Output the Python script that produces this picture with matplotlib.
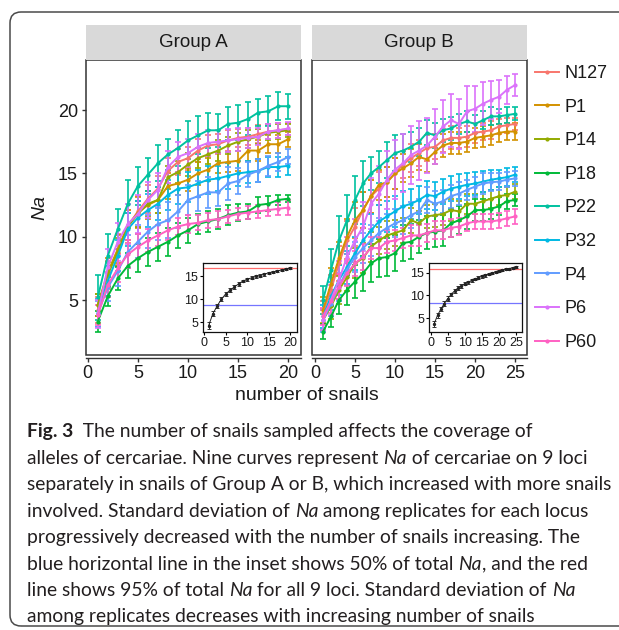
import numpy as np
import matplotlib
matplotlib.use("Agg")
import matplotlib.pyplot as plt
from matplotlib.patches import FancyBboxPatch, Rectangle
from matplotlib.lines import Line2D
from matplotlib.transforms import IdentityTransform

plt.rcParams['font.family'] = ['Liberation Sans', 'DejaVu Sans']

# ---------------- data ----------------
loci = ["N127", "P1", "P14", "P18", "P22", "P32", "P4", "P6", "P60"]
colors = ["#F8766D", "#D39200", "#93AA00", "#00BA38", "#00C19F",
          "#00B9E3", "#619CFF", "#DB72FB", "#FF61C3"]

snails_A = list(range(1, 21))
snails_B = list(range(1, 26))

# Group A means
a_N127 = [4.2, 7.0, 9.0, 10.8, 12.0, 13.0, 13.8, 15.2, 15.9, 16.2, 16.8, 17.2, 17.3, 17.6, 17.8, 17.9, 18.1, 18.3, 18.4, 18.5]
a_P1   = [4.6, 7.2, 9.0, 10.9, 11.9, 12.5, 12.9, 14.0, 14.2, 14.5, 15.0, 15.3, 15.8, 15.9, 16.0, 16.8, 16.8, 17.3, 17.3, 17.7]
a_P14  = [4.6, 7.0, 8.8, 10.8, 11.8, 12.6, 12.9, 14.7, 15.1, 15.7, 16.2, 16.5, 16.8, 17.2, 17.5, 17.7, 17.9, 18.2, 18.3, 18.4]
a_P18  = [3.3, 5.3, 6.7, 7.7, 8.3, 8.8, 9.2, 9.6, 10.1, 10.5, 11.0, 11.2, 11.4, 11.7, 11.9, 12.0, 12.5, 12.6, 12.9, 13.0]
a_P22  = [5.2, 8.5, 10.6, 12.6, 14.0, 14.9, 15.8, 16.5, 17.0, 17.6, 18.0, 18.4, 18.4, 18.9, 19.0, 19.3, 19.8, 19.9, 20.3, 20.3]
a_P32  = [4.0, 6.5, 8.5, 10.6, 11.5, 12.1, 12.6, 13.3, 13.8, 13.9, 14.2, 14.5, 14.6, 14.8, 15.0, 15.1, 15.2, 15.5, 15.5, 15.6]
a_P4   = [3.9, 6.0, 7.3, 8.8, 9.6, 10.4, 11.0, 11.3, 12.0, 12.9, 13.2, 13.5, 13.5, 14.2, 14.4, 14.9, 15.2, 15.6, 15.9, 16.3]
a_P6   = [3.9, 7.6, 9.6, 11.0, 11.8, 12.9, 13.7, 15.5, 16.3, 16.6, 17.1, 17.4, 17.5, 17.6, 17.7, 17.8, 17.9, 18.3, 18.4, 18.55]
a_P60  = [3.8, 6.2, 7.5, 8.6, 9.2, 9.7, 10.1, 10.5, 10.8, 11.0, 11.1, 11.3, 11.4, 11.6, 11.8, 11.9, 12.0, 12.1, 12.2, 12.3]

# Group A standard deviations
a_N127_sd = [1.0, 1.1, 1.2, 1.3, 1.2, 1.1, 1.0, 1.0, 1.0, 0.9, 0.9, 0.8, 0.8, 0.8, 0.7, 0.7, 0.7, 0.6, 0.6, 0.5]
a_P1_sd   = [0.9, 1.1, 1.1, 1.2, 1.2, 1.1, 1.0, 1.0, 0.9, 0.9, 0.9, 0.9, 0.8, 0.8, 0.8, 0.8, 0.8, 0.7, 0.7, 0.6]
a_P14_sd  = [0.9, 1.0, 1.1, 1.1, 1.0, 1.0, 1.0, 0.9, 0.9, 0.9, 0.8, 0.8, 0.8, 0.7, 0.7, 0.7, 0.6, 0.6, 0.6, 0.5]
a_P18_sd  = [0.8, 0.8, 0.9, 1.0, 1.1, 1.1, 1.1, 1.1, 1.0, 1.0, 0.8, 0.8, 0.8, 0.8, 0.7, 0.6, 0.6, 0.6, 0.4, 0.3]
a_P22_sd  = [1.8, 1.7, 1.6, 1.9, 1.5, 1.3, 1.4, 1.2, 1.4, 1.5, 1.5, 1.4, 1.3, 1.3, 1.4, 1.3, 1.1, 1.2, 1.1, 1.0]
a_P32_sd  = [1.1, 1.2, 1.2, 1.3, 1.3, 1.3, 1.3, 1.2, 1.2, 1.2, 1.1, 1.1, 1.0, 1.0, 1.0, 0.9, 0.9, 0.8, 0.8, 0.7]
a_P4_sd   = [1.0, 1.1, 1.2, 1.3, 1.3, 1.3, 1.3, 1.4, 1.3, 1.2, 1.2, 1.2, 1.1, 1.3, 1.0, 1.0, 0.9, 0.8, 0.7, 0.6]
a_P6_sd   = [1.1, 1.4, 1.5, 1.6, 1.5, 1.4, 1.3, 1.3, 1.2, 1.1, 1.0, 1.0, 0.9, 0.9, 0.9, 0.8, 0.7, 0.6, 0.6, 0.5]
a_P60_sd  = [0.8, 1.0, 1.1, 1.1, 1.0, 0.9, 0.8, 0.8, 0.7, 0.7, 0.6, 0.6, 0.6, 0.5, 0.5, 0.5, 0.5, 0.5, 0.5, 0.6]

# Group B means
b_N127 = [4.0, 5.8, 7.9, 9.7, 10.8, 12.1, 13.2, 13.8, 14.3, 15.0, 15.7, 16.2, 16.6, 17.0, 17.1, 17.6, 17.8, 17.8, 17.9, 18.2, 18.3, 18.4, 18.7, 18.8, 18.9]
b_P1   = [4.2, 6.3, 8.3, 10.0, 11.3, 12.1, 13.2, 14.1, 14.3, 15.0, 15.4, 15.8, 16.3, 16.1, 16.7, 17.2, 17.4, 17.4, 17.5, 17.8, 17.9, 18.0, 18.2, 18.3, 18.3]
b_P14  = [3.4, 4.5, 5.8, 6.8, 7.9, 8.3, 9.2, 9.7, 10.1, 10.3, 10.5, 11.3, 11.05, 11.6, 11.7, 11.8, 12.1, 12.0, 12.6, 12.6, 12.8, 13.0, 13.2, 13.3, 13.55]
b_P18  = [2.5, 3.7, 5.0, 5.8, 6.45, 7.1, 7.9, 8.3, 8.4, 8.7, 9.5, 9.6, 10.0, 10.3, 10.4, 10.5, 11.05, 11.3, 11.6, 12.1, 12.1, 12.2, 12.4, 12.8, 12.9]
b_P22  = [5.0, 7.4, 9.7, 11.3, 12.9, 14.2, 15.0, 15.5, 16.05, 16.6, 16.8, 17.1, 17.5, 18.2, 18.0, 18.4, 18.55, 18.9, 19.1, 18.9, 19.2, 19.5, 19.5, 19.6, 19.7]
b_P32  = [3.7, 5.3, 6.6, 7.6, 8.7, 9.7, 10.5, 11.2, 11.6, 12.0, 12.4, 12.6, 12.9, 13.3, 13.2, 13.55, 13.8, 13.95, 14.1, 14.2, 14.35, 14.5, 14.6, 14.7, 14.9]
b_P4   = [3.4, 4.7, 6.05, 7.4, 8.4, 9.1, 9.7, 10.3, 10.7, 11.05, 11.3, 11.7, 12.0, 12.9, 12.6, 12.8, 13.2, 13.4, 13.7, 13.95, 14.2, 14.3, 14.35, 14.5, 14.6]
b_P6   = [3.4, 5.0, 6.6, 8.4, 9.7, 10.8, 12.6, 13.4, 14.5, 15.3, 15.8, 16.45, 16.8, 17.2, 17.9, 18.7, 19.2, 18.9, 19.9, 20.1, 20.5, 20.8, 21.05, 21.6, 21.97]
b_P60  = [3.7, 4.9, 6.05, 7.1, 7.9, 8.4, 9.1, 9.1, 9.6, 9.7, 9.9, 10.1, 10.1, 10.3, 10.5, 10.5, 10.7, 10.8, 11.05, 11.2, 11.2, 11.2, 11.3, 11.45, 11.6]

# Group B standard deviations
b_N127_sd = [0.9, 1.2, 1.4, 1.5, 1.5, 1.4, 1.3, 1.3, 1.2, 1.2, 1.1, 1.1, 1.0, 1.0, 1.0, 0.9, 0.9, 0.8, 0.8, 0.8, 0.7, 0.7, 0.6, 0.6, 0.5]
b_P1_sd   = [1.0, 1.2, 1.3, 1.4, 1.4, 1.4, 1.3, 1.2, 1.2, 1.2, 1.1, 1.1, 1.0, 1.0, 1.0, 0.9, 0.9, 0.9, 0.8, 0.8, 0.8, 0.8, 0.7, 0.7, 0.7]
b_P14_sd  = [0.8, 1.0, 1.1, 1.1, 1.2, 1.2, 1.2, 1.1, 1.1, 1.0, 1.0, 1.0, 1.0, 0.9, 0.9, 0.9, 0.9, 0.8, 0.8, 0.8, 0.7, 0.7, 0.7, 0.6, 0.6]
b_P18_sd  = [0.6, 0.8, 1.1, 1.2, 1.3, 1.4, 1.5, 1.5, 1.5, 1.4, 1.4, 1.4, 1.3, 1.3, 1.2, 1.2, 1.1, 1.1, 1.0, 0.9, 0.9, 0.8, 0.7, 0.6, 0.5]
b_P22_sd  = [1.1, 1.6, 1.9, 2.0, 1.9, 1.8, 1.3, 1.3, 1.4, 1.4, 1.3, 1.2, 1.1, 1.0, 1.0, 0.9, 0.9, 0.8, 0.8, 0.7, 0.7, 0.7, 0.6, 0.6, 0.5]
b_P32_sd  = [0.9, 1.1, 1.2, 1.3, 1.3, 1.3, 1.3, 1.3, 1.2, 1.2, 1.2, 1.2, 1.1, 1.1, 1.1, 1.0, 1.0, 1.0, 0.9, 0.9, 0.8, 0.8, 0.7, 0.7, 0.6]
b_P4_sd   = [0.9, 1.0, 1.1, 1.2, 1.2, 1.2, 1.2, 1.2, 1.1, 1.1, 1.1, 1.0, 1.0, 1.0, 1.0, 0.9, 0.9, 0.9, 0.8, 0.8, 0.8, 0.7, 0.7, 0.6, 0.6]
b_P6_sd   = [0.8, 1.2, 1.5, 1.6, 1.7, 1.9, 2.0, 2.2, 2.3, 2.3, 2.3, 2.3, 2.3, 2.2, 2.2, 2.1, 2.1, 2.0, 2.0, 1.8, 1.7, 1.5, 1.3, 1.1, 0.9]
b_P60_sd  = [0.7, 0.9, 1.0, 1.0, 1.0, 1.0, 0.9, 0.9, 0.9, 0.8, 0.8, 0.8, 0.8, 0.7, 0.7, 0.7, 0.7, 0.7, 0.6, 0.6, 0.6, 0.6, 0.6, 0.6, 0.6]

# Insets: mean Na over all 9 loci
inset_A_mean = [4.2, 6.8, 8.5, 10.0, 11.1, 11.9, 12.6, 13.3, 13.9, 14.3, 14.6, 14.9, 15.1, 15.4, 15.7, 15.9, 16.1, 16.3, 16.5, 16.7]
inset_A_sd   = [0.8, 0.6, 0.5, 0.5, 0.4, 0.4, 0.4, 0.4, 0.3, 0.3, 0.3, 0.3, 0.3, 0.3, 0.2, 0.2, 0.2, 0.2, 0.2, 0.2]
inset_B_mean = [3.7, 5.6, 7.0, 8.2, 9.3, 10.2, 11.0, 11.6, 12.1, 12.6, 12.9, 13.3, 13.6, 13.9, 14.2, 14.4, 14.7, 14.9, 15.2, 15.4, 15.6, 15.8, 15.9, 16.1, 16.3]
inset_B_sd   = [0.7, 0.6, 0.5, 0.5, 0.5, 0.4, 0.4, 0.4, 0.4, 0.3, 0.3, 0.3, 0.3, 0.3, 0.3, 0.3, 0.2, 0.2, 0.2, 0.2, 0.2, 0.2, 0.2, 0.2, 0.2]
inset_A_95 = 16.7
inset_A_50 = 8.8
inset_B_95 = 15.75
inset_B_50 = 8.3

groups = ["Group A", "Group B"]

means_A = [a_N127, a_P1, a_P14, a_P18, a_P22, a_P32, a_P4, a_P6, a_P60]
sds_A = [a_N127_sd, a_P1_sd, a_P14_sd, a_P18_sd, a_P22_sd, a_P32_sd, a_P4_sd, a_P6_sd, a_P60_sd]
means_B = [b_N127, b_P1, b_P14, b_P18, b_P22, b_P32, b_P4, b_P6, b_P60]
sds_B = [b_N127_sd, b_P1_sd, b_P14_sd, b_P18_sd, b_P22_sd, b_P32_sd, b_P4_sd, b_P6_sd, b_P60_sd]

caption_lines = [
    [("Fig. 3", "bold"), ("  The number of snails sampled affects the coverage of", "normal")],
    [("alleles of cercariae. Nine curves represent ", "normal"), ("Na", "italic"), (" of cercariae on 9 loci", "normal")],
    [("separately in snails of Group A or B, which increased with more snails", "normal")],
    [("involved. Standard deviation of ", "normal"), ("Na", "italic"), (" among replicates for each locus", "normal")],
    [("progressively decreased with the number of snails increasing. The", "normal")],
    [("blue horizontal line in the inset shows 50% of total ", "normal"), ("Na", "italic"), (", and the red", "normal")],
    [("line shows 95% of total ", "normal"), ("Na", "italic"), (" for all 9 loci. Standard deviation of ", "normal"), ("Na", "italic")],
    [("among replicates decreases with increasing number of snails", "normal")],
]

# ---------------- figure ----------------
W, H, DPI = 619, 630, 100
fig = plt.figure(figsize=(W / DPI, H / DPI), dpi=DPI)
TXT = "#1a1a1a"
TICK_FS = 13
BORDER = "#333333"


def px_rect(left, top, right, bottom):
    return [left / W, 1 - bottom / H, (right - left) / W, (bottom - top) / H]


# outer rounded frame
frame = FancyBboxPatch((10, 4), 700, 614, boxstyle="round,pad=0,rounding_size=11",
                       transform=IdentityTransform(), fill=False, ec="#4a4a4a", lw=1.1)
fig.add_artist(frame)

panel_px = [(86, 60, 301, 355), (311.7, 60, 526.7, 355)]
xlims = [(-0.17, 21.27), (-0.41, 26.46)]
xticks = [[0, 5, 10, 15, 20], [0, 5, 10, 15, 20, 25]]
xs_all = [snails_A, snails_B]
means_all = [means_A, means_B]
sds_all = [sds_A, sds_B]

inset_px = [(203, 263, 297, 332), (429, 263, 522, 332)]
inset_xlims = [(-0.3, 21.6), (-0.5, 26.75)]
inset_ylims = [(2.83, 17.83), (1.91, 17.14)]
inset_xticks = [[0, 5, 10, 15, 20], [0, 5, 10, 15, 20, 25]]
inset_means = [inset_A_mean, inset_B_mean]
inset_sds = [inset_A_sd, inset_B_sd]
inset_95 = [inset_A_95, inset_B_95]
inset_50 = [inset_A_50, inset_B_50]

for g in range(2):
    l, t, r, b = panel_px[g]
    ax = fig.add_axes(px_rect(l, t, r, b))
    x = np.array(xs_all[g])
    for i, name in enumerate(loci):
        ax.errorbar(x, means_all[g][i], yerr=sds_all[g][i], fmt='none',
                    ecolor=colors[i], elinewidth=1.2, capsize=2.3, capthick=1.2, zorder=2)
    for i, name in enumerate(loci):
        ax.plot(x, means_all[g][i], color=colors[i], lw=1.4, zorder=3,
                marker='o', ms=2.0, mec=colors[i], mfc=colors[i])
    ax.set_xlim(*xlims[g])
    ax.set_ylim(0.66, 23.95)
    ax.set_xticks(xticks[g])
    ax.set_yticks([5, 10, 15, 20])
    for s in ["top", "right", "left"]:
        ax.spines[s].set_visible(False)
    ax.spines["bottom"].set_position(("outward", 2.3))
    ax.spines["bottom"].set_color(BORDER)
    ax.spines["bottom"].set_linewidth(1.0)
    ax.add_patch(Rectangle((0, 0), 1, 1, transform=ax.transAxes, fill=False,
                           ec=BORDER, lw=1.1, clip_on=False, zorder=6))
    ax.tick_params(axis='x', length=3.2, width=1.0, color=BORDER, labelsize=TICK_FS,
                   labelcolor=TXT, pad=1.5)
    if g == 0:
        ax.tick_params(axis='y', length=3.2, width=1.0, color=BORDER, labelsize=TICK_FS,
                       labelcolor=TXT, pad=2.5)
    else:
        ax.tick_params(axis='y', left=False, labelleft=False)

    # strip
    sax = fig.add_axes(px_rect(l, 25, r, 60))
    sax.set_facecolor("#D9D9D9")
    sax.set_xticks([]); sax.set_yticks([])
    for s in sax.spines.values():
        s.set_visible(False)
    sax.text(0.5, 0.5, groups[g], ha='center', va='center', fontsize=13.5, color=TXT,
             transform=sax.transAxes)

    # inset
    il, it, ir, ib = inset_px[g]
    iax = fig.add_axes(px_rect(il, it, ir, ib))
    iax.set_zorder(10)
    ix = np.array(xs_all[g])
    iax.axhline(inset_95[g], color="#FF6B6B", lw=0.9, zorder=1)
    iax.axhline(inset_50[g], color="#7575FF", lw=0.9, zorder=1)
    iax.errorbar(ix, inset_means[g], yerr=inset_sds[g], fmt='none', ecolor="#333333",
                 elinewidth=0.7, capsize=1.2, capthick=0.7, zorder=2)
    iax.plot(ix, inset_means[g], color="#222222", lw=0.7, marker='o', ms=1.4, zorder=3)
    iax.set_xlim(*inset_xlims[g])
    iax.set_ylim(*inset_ylims[g])
    iax.set_xticks(inset_xticks[g])
    iax.set_yticks([5, 10, 15])
    for s in iax.spines.values():
        s.set_color("#111111"); s.set_linewidth(0.9)
    iax.tick_params(length=2.2, width=0.8, labelsize=9, labelcolor=TXT, pad=1.2)

# axis titles
fig.text(40 / W, 1 - 208 / H, "Na", rotation=90, ha='center', va='center',
         fontsize=14, style='italic', color=TXT)
fig.text(306.5 / W, 1 - 396 / H, "number of snails", ha='center', va='center',
         fontsize=14, color=TXT)

# legend
handles = [Line2D([0], [0], color=c, lw=1.4, marker='o', ms=2.0) for c in colors]
fig.legend(handles, loci, loc='upper left', bbox_to_anchor=(535 / W, 1 - 65 / H),
           frameon=False, fontsize=13, handlelength=1.35, handletextpad=0.3,
           labelspacing=0.92, borderpad=0, borderaxespad=0, labelcolor=TXT)

# caption
renderer = fig.canvas.get_renderer()
CAP_FONT = ['Lato', 'DejaVu Sans']
CAP_COLOR = "#231F20"


def seg_width(txt, style, size):
    kw = dict(fontsize=size, family=CAP_FONT)
    if style == "bold":
        kw['weight'] = 'bold'
    elif style == "italic":
        kw['style'] = 'italic'
    t = fig.text(0, 0, txt, **kw)
    w = t.get_window_extent(renderer).width
    t.remove()
    return w


ref_line = caption_lines[2]
w10 = sum(seg_width(s, st, 10) for s, st in ref_line)
cap_size = 10 * 585.0 / w10

for li, segs in enumerate(caption_lines):
    xpx = 27.0
    ybase = 437.5 + 26.4 * li
    for s, st in segs:
        kw = dict(fontsize=cap_size, family=CAP_FONT, color=CAP_COLOR, va='baseline', ha='left')
        if st == "bold":
            kw['weight'] = 'bold'
        elif st == "italic":
            kw['style'] = 'italic'
        t = fig.text(xpx / W, 1 - ybase / H, s, **kw)
        xpx += t.get_window_extent(renderer).width

fig.savefig("out.png", dpi=DPI)
